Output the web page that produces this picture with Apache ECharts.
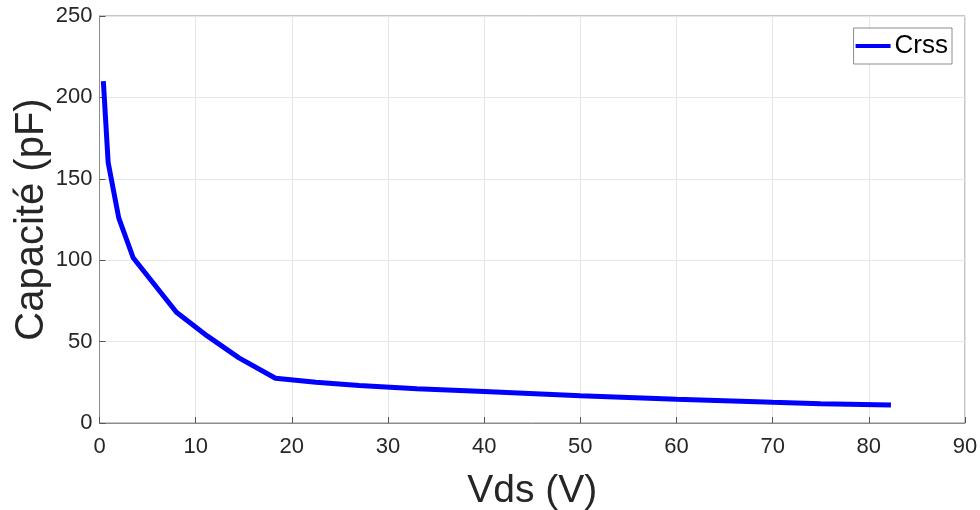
<!DOCTYPE html>
<html>
<head>
<meta charset="utf-8">
<script src="https://cdn.jsdelivr.net/npm/echarts@6/dist/echarts.min.js"></script>
<style>html,body{margin:0;padding:0;background:#fff;}#c{width:980px;height:510px;}</style>
</head>
<body>
<div id="c"></div>
<script>
const vds = [0.4, 0.9, 2.0, 3.5, 8.0, 11.2, 14.5, 18.3, 22.5, 27.0, 33.0, 40.0, 50.0, 60.0, 70.0, 75.0, 82.3];
const crss = [210, 160, 126, 101.5, 68, 53.5, 40, 27.5, 25, 23, 21, 19.3, 16.8, 14.6, 12.7, 11.8, 11.0];
const seriesName = 'Crss';
const xTitle = 'Vds (V)';
const yTitle = 'Capacité (pF)';

const chart = echarts.init(document.getElementById('c'), null, {renderer: 'canvas'});
const font = 'Liberation Sans, Arial, sans-serif';
const lblColor = '#262626';
chart.setOption({
  animation: false,
  backgroundColor: '#fff',
  grid: {left: 99.5, right: 15, top: 16, bottom: 87, show: true, borderColor: '#8c8c8c', borderWidth: 1,
         containLabel: false, outerBoundsMode: 'none'},
  legend: {
    data: [{name: seriesName, icon: 'rect'}],
    right: 28, top: 28,
    itemWidth: 35, itemHeight: 4,
    itemGap: 4,
    padding: [5, 4, 5, 2],
    borderColor: '#8c8c8c', borderWidth: 1, borderRadius: 0,
    backgroundColor: '#fff',
    textStyle: {fontFamily: font, fontSize: 26, color: '#000', padding: [0,0,0,-1]}
  },
  xAxis: {
    type: 'value', min: 0, max: 90, interval: 10,
    name: xTitle, nameLocation: 'middle', nameGap: 49, nameMoveOverlap: false,
    nameTextStyle: {fontFamily: font, fontSize: 39, color: lblColor},
    axisLine: {show: true, lineStyle: {color: '#8c8c8c'}},
    axisTick: {show: true, inside: true, length: 6, lineStyle: {color: '#555'}},
    axisLabel: {fontFamily: font, fontSize: 22, color: lblColor, margin: 13},
    splitLine: {show: true, lineStyle: {color: '#e6e6e6'}}
  },
  yAxis: {
    type: 'value', min: 0, max: 250, interval: 50,
    name: yTitle, nameLocation: 'middle', nameGap: 48, nameMoveOverlap: false,
    nameTextStyle: {fontFamily: font, fontSize: 40, color: lblColor},
    axisLine: {show: true, lineStyle: {color: '#8c8c8c'}},
    axisTick: {show: true, inside: true, length: 6, lineStyle: {color: '#555'}},
    axisLabel: {fontFamily: font, fontSize: 22, color: lblColor, margin: 7},
    splitLine: {show: true, lineStyle: {color: '#e6e6e6'}}
  },
  series: [{
    name: seriesName, type: 'line',
    data: vds.map((v, i) => [v, crss[i]]),
    showSymbol: false, symbol: 'none',
    lineStyle: {color: '#0000ff', width: 5},
    itemStyle: {color: '#0000ff'}
  }]
});
</script>
</body>
</html>
